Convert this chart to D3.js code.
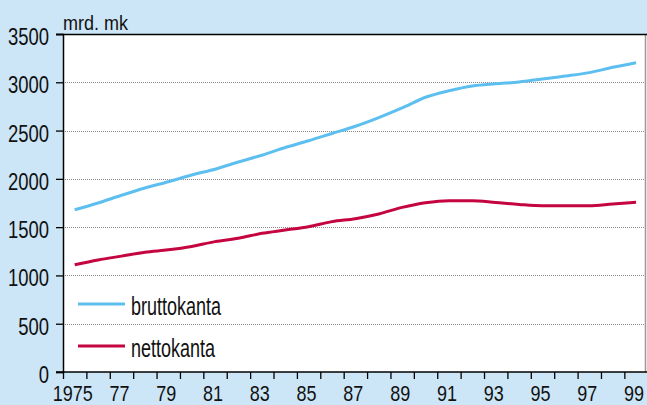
<!DOCTYPE html>
<html><head><meta charset="utf-8">
<script src="https://cdn.jsdelivr.net/npm/d3@7"></script>
<style>
html,body{margin:0;padding:0;background:#cce6f7;}
svg{display:block;}
text{font-family:"Liberation Sans",Arial,sans-serif;fill:#111;}
</style></head>
<body>
<svg id="c" width="647" height="405"></svg>
<script>
const years = d3.range(1975, 2000);
const brutto = [1680,1750,1830,1905,1970,2040,2100,2175,2245,2325,2395,2470,2545,2635,2735,2845,2912,2962,2985,3003,3035,3065,3100,3155,3203];
const netto  = [1110,1160,1200,1240,1265,1300,1350,1385,1436,1470,1505,1557,1588,1636,1705,1753,1774,1774,1755,1735,1722,1722,1722,1740,1757];
const yTicks = [0,500,1000,1500,2000,2500,3000,3500];
const xLabels = ["1975","77","79","81","83","85","87","89","91","93","95","97","99"];
const xLabelYears = [1975,1977,1979,1981,1983,1985,1987,1989,1991,1993,1995,1997,1999];
const seriesNames = ["bruttokanta","nettokanta"];
const colors = ["#5dbfef","#c5053f"];
const unitLabel = "mrd. mk";

const svg = d3.select("#c");
const L = 63, R = 647.75, T = 34, B = 372;
const x = d3.scaleLinear().domain([1975, 2000]).range([L, R]);
const y = d3.scaleLinear().domain([0, 3500]).range([B, T]);

function condense(sel, f) {
  sel.each(function () {
    const w = this.getComputedTextLength();
    d3.select(this).attr("textLength", w * f).attr("lengthAdjust", "spacingAndGlyphs");
  });
}

// plot background
svg.append("rect").attr("x", L).attr("y", T).attr("width", R - L).attr("height", B - T).attr("fill", "#fff");

// gridlines
svg.append("g").selectAll("line").data(yTicks.filter(d => d > 0 && d < 3500)).join("line")
  .attr("x1", L).attr("x2", 647).attr("y1", d => Math.round(y(d)) + 0.5).attr("y2", d => Math.round(y(d)) + 0.5)
  .attr("stroke", "#8a8a8a").attr("stroke-width", 1.2).attr("stroke-dasharray", "1,1");

// right border
svg.append("line").attr("x1", 645.5).attr("x2", 645.5).attr("y1", T).attr("y2", B).attr("stroke", "#999").attr("stroke-width", 1.5);

// top line
svg.append("line").attr("x1", 56).attr("x2", 647).attr("y1", T + 0.5).attr("y2", T + 0.5).attr("stroke", "#000").attr("stroke-width", 1.5);

// y axis
const yAxis = d3.axisLeft(y).tickValues(yTicks).tickSize(7).tickPadding(7).tickFormat(d3.format("d"));
const gy = svg.append("g").attr("transform", `translate(${L},0)`).call(yAxis);
gy.select(".domain").attr("stroke", "#000").attr("stroke-width", 1.5);
gy.selectAll(".tick line").attr("stroke", "#000").attr("stroke-width", 1.3);
gy.selectAll(".tick text").attr("font-size", 24).attr("font-family", null).attr("fill", "#111").attr("dy", "0.44em")
  .call(condense, 0.77);

// x axis
const xAxis = d3.axisBottom(x).tickValues(d3.range(1975, 2000)).tickSize(7).tickFormat("");
const gx = svg.append("g").attr("transform", `translate(0,${B})`).call(xAxis);
gx.select(".domain").remove();
gx.append("line").attr("x1", 56).attr("x2", 647).attr("y1", 0).attr("y2", 0).attr("stroke", "#000").attr("stroke-width", 1.5);
gx.selectAll(".tick line").attr("stroke", "#000").attr("stroke-width", 1.3);
svg.append("g").selectAll("text").data(xLabelYears).join("text")
  .attr("x", d => x(d + 0.5) - 2).attr("y", 400.5).attr("text-anchor", "middle").attr("font-size", 22.5)
  .text((d, i) => xLabels[i]).call(condense, 0.8);

// unit label
svg.append("text").attr("x", 63).attr("y", 30).attr("font-size", 20).text(unitLabel).call(condense, 0.9);

// lines
const line = d3.line().x((d, i) => x(years[i] + 0.5)).y(d => y(d)).curve(d3.curveMonotoneX);
[brutto, netto].forEach((s, k) => {
  svg.append("path").datum(s).attr("d", line).attr("fill", "none")
    .attr("stroke", colors[k]).attr("stroke-width", 3).attr("stroke-linejoin", "round");
});

// legend
const lg = svg.append("g");
[304, 346].forEach((ly, k) => {
  lg.append("line").attr("x1", 78).attr("x2", 125).attr("y1", ly).attr("y2", ly).attr("stroke", colors[k]).attr("stroke-width", 3);
  lg.append("text").attr("x", 131).attr("y", ly + 11).attr("font-size", 25).text(seriesNames[k]).call(condense, 0.72);
});
</script>
</body></html>
